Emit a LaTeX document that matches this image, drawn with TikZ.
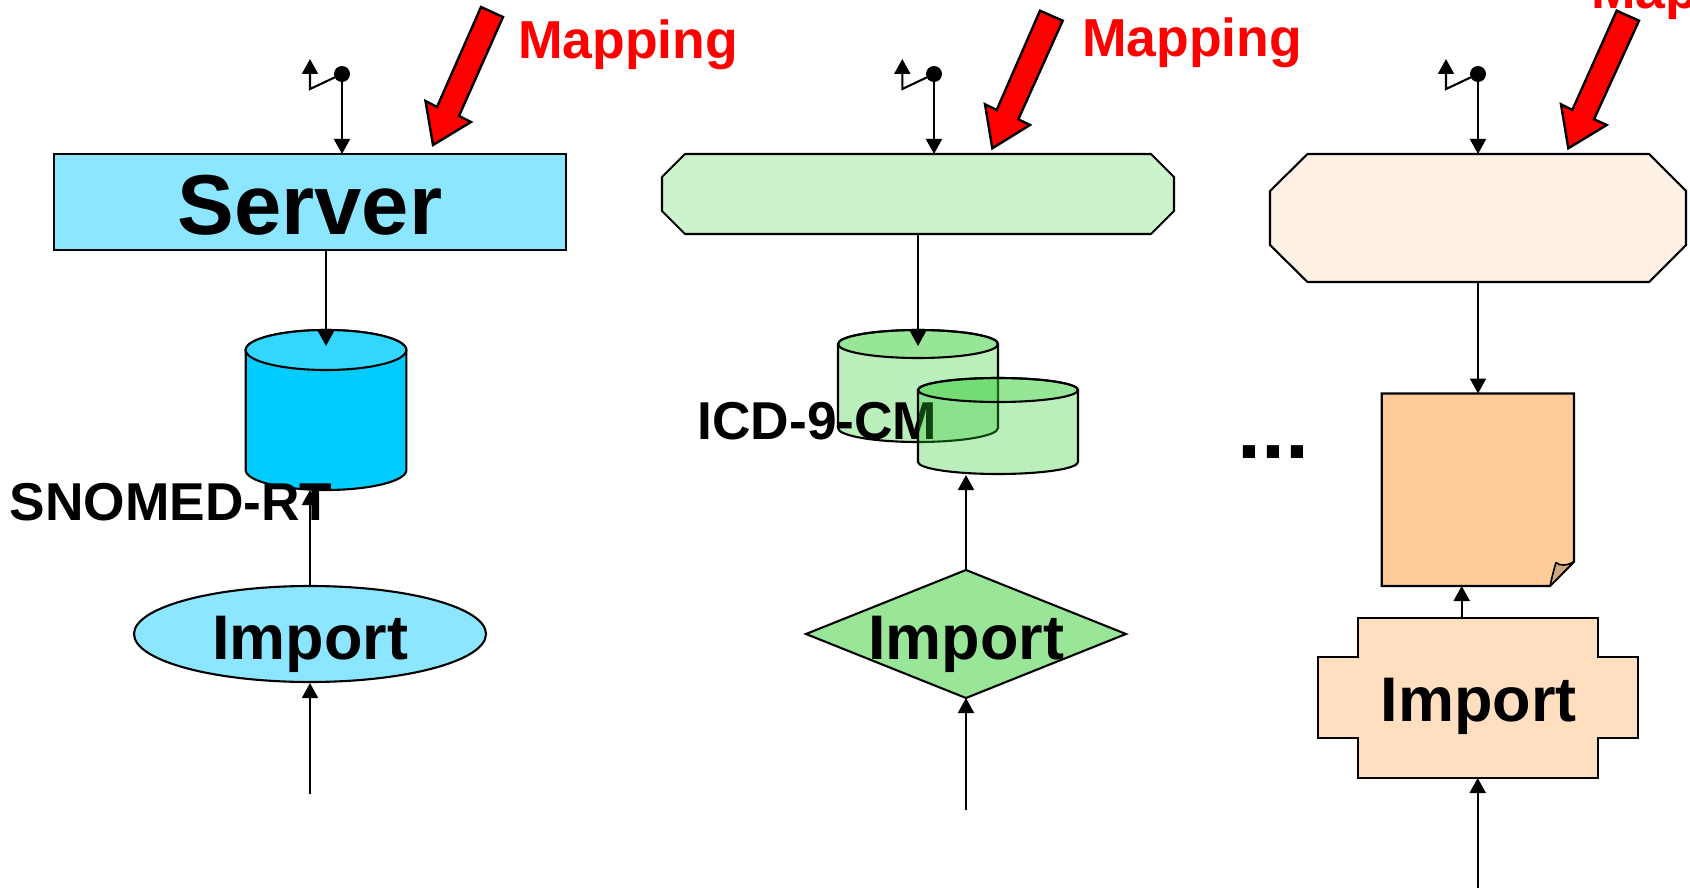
\documentclass[tikz,border=0pt]{standalone}
\usepackage{fontspec}
\setmainfont{Liberation Sans}
\usetikzlibrary{arrows.meta,shapes.geometric}
\definecolor{skyfill}{HTML}{8CE6FF}
\definecolor{cyanside}{HTML}{00CCFF}
\definecolor{cyantop}{HTML}{33D6FF}
\definecolor{palegreen}{HTML}{CCF2CC}
\definecolor{midgreen}{HTML}{99E699}
\definecolor{glassgreen}{rgb}{.19,.8,.19}
\definecolor{palecream}{HTML}{FEF0E3}
\definecolor{docorange}{HTML}{FFCC99}
\definecolor{foldtan}{HTML}{CFA87F}
\definecolor{crosspeach}{HTML}{FFDFBF}
\tikzset{
  link/.style={draw=black,-{Triangle[length=15pt,width=16pt]}},
  shapeline/.style={draw=black,line join=miter},
  redarrow/.style={draw=black,fill=red,line width=2.4pt,line join=miter},
  dotnode/.style={circle,fill=black,inner sep=0pt,minimum size=16pt},
  labeltext/.style={inner sep=0pt,anchor=base,font=\fontsize{53.3}{60}\selectfont\bfseries},
  maptext/.style={labeltext,text=red,font=\fontsize{53.5}{60}\selectfont\bfseries},
  importtext/.style={labeltext,font=\fontsize{63}{70}\selectfont\bfseries},
}
\begin{document}
\begin{tikzpicture}[x=1pt,y=-1pt,line width=2.1pt]
\useasboundingbox (0,0) rectangle (1690,888);
\clip (0,0) rectangle (1690,888);
\fill[white] (0,0) rectangle (1690,888);

% ---------- column 1
\node[draw=black,fill=skyfill,minimum width=512pt,minimum height=96pt,inner sep=0pt] (server) at (310,202) {};
\node[labeltext,font=\fontsize{85}{90}\selectfont\bfseries] (servertext) at (310,234) {Server};
\path[shapeline,fill=cyanside] (245.7,350) -- (245.7,470) arc[start angle=180,end angle=360,x radius=80.35pt,y radius=20pt] -- (406.4,350) arc[start angle=0,end angle=180,x radius=80.35pt,y radius=20pt] -- cycle;
\draw[fill=cyantop] (326,350) ellipse[x radius=80.35pt,y radius=20pt];
\coordinate (cyltop) at (326,346);
\coordinate (cylbot) at (310,490);
\coordinate (servbot) at (326,250);
\draw[link] (servbot) -- (cyltop);
\node[draw=black,fill=skyfill,ellipse,minimum width=352pt,minimum height=96pt,inner sep=0pt] (imp1) at (310,634) {};
\node[importtext] (imp1text) at (310,659) {Import};
\coordinate (in1) at (310,794);
\draw[link] (in1) -- (imp1.south);
\draw[link] (imp1.north) -- (cylbot);
\node[labeltext] (snomed) at (171,520) {SNOMED-RT};
\coordinate (d1bot) at (342,154);
\coordinate (d1bend) at (310,89);
\coordinate (d1up) at (310,59);
\node[dotnode] (dot1) at (342,74) {};
\draw[link] (dot1.center) -- (d1bot);
\draw[link] (dot1.center) -- (d1bend) -- (d1up);
\path[redarrow] (481,7) -- (503,17) -- (459,116) -- (471,122) -- (433,145) -- (425.5,101) -- (437,107) -- cycle;
\node[maptext] (map1) at (628,59) {Mapping};

% ---------- column 2
\path[shapeline,fill=palegreen] (685,154) -- (1151,154) -- (1174,177) -- (1174,211) -- (1151,234) -- (685,234) -- (662,211) -- (662,177) -- cycle;
\path[shapeline,fill=glassgreen,fill opacity=.33] (838,344) -- (838,428) arc[start angle=180,end angle=360,x radius=80pt,y radius=14pt] -- (998,344) arc[start angle=0,end angle=180,x radius=80pt,y radius=14pt] -- cycle;
\draw[fill=glassgreen,fill opacity=.25] (918,344) ellipse[x radius=80pt,y radius=14pt];
\coordinate (gbot) at (918,234);
\coordinate (gcyl) at (918,346);
\draw[link] (gbot) -- (gcyl);
\node[labeltext] (icd) at (817.5,439.5) {ICD-9-CM};
\path[shapeline,fill=glassgreen,fill opacity=.33] (918,390) -- (918,462) arc[start angle=180,end angle=360,x radius=80pt,y radius=12pt] -- (1078,390) arc[start angle=0,end angle=180,x radius=80pt,y radius=12pt] -- cycle;
\draw[fill=glassgreen,fill opacity=.25] (998,390) ellipse[x radius=80pt,y radius=12pt];
\path[shapeline,fill=midgreen] (966,570) -- (1126,634) -- (966,698) -- (806,634) -- cycle;
\node[importtext] (imp2text) at (966,659) {Import};
\coordinate (dtop) at (966,570);
\coordinate (dbot) at (966,698);
\coordinate (cylBbot) at (966,475);
\coordinate (in2) at (966,810);
\draw[link] (dtop) -- (cylBbot);
\draw[link] (in2) -- (dbot);
\coordinate (d2bot) at (934,154);
\coordinate (d2bend) at (902.3,89);
\coordinate (d2up) at (902.3,59);
\node[dotnode] (dot2) at (934,74) {};
\draw[link] (dot2.center) -- (d2bot);
\draw[link] (dot2.center) -- (d2bend) -- (d2up);
\path[redarrow] (1040,10.7) -- (1062.7,20.7) -- (1018.3,119.3) -- (1030,125) -- (992.3,148.3) -- (985,104.3) -- (996.7,110) -- cycle;
\node[maptext] (map2) at (1192,57) {Mapping};

% ---------- dots
\node[labeltext,font=\fontsize{86.3}{90}\selectfont\bfseries] (ellipsis) at (1273.5,458) {...};

% ---------- column 3
\path[shapeline,fill=palecream] (1307.5,154) -- (1649,154) -- (1686,191) -- (1686,245) -- (1649,282) -- (1307.5,282) -- (1270,245) -- (1270,191) -- cycle;
\path[shapeline,fill=docorange] (1381.7,393.5) -- (1574,393.5) -- (1574,561.7) -- (1550,586) -- (1381.7,586) -- cycle;
\path[draw=black,line width=1.6pt,line join=round,fill=foldtan] (1550,586) .. controls (1552,577) and (1554,569) .. (1556,562.5) .. controls (1559,566) and (1567,566) .. (1574,561.7) -- cycle;
\coordinate (cbot) at (1478,282);
\coordinate (doctop) at (1478,393.5);
\draw[link] (cbot) -- (doctop);
\coordinate (docbot) at (1461.7,586);
\coordinate (crosstop) at (1461.7,617.7);
\coordinate (crossbot) at (1477.7,778);
\coordinate (in3) at (1477.7,888);
\path[shapeline,fill=crosspeach] (1357.7,617.7) -- (1598.3,617.7) -- (1598.3,657.3) -- (1638.3,657.3) -- (1638.3,738.3) -- (1598.3,738.3) -- (1598.3,777.7) -- (1357.7,777.7) -- (1357.7,738.3) -- (1318,738.3) -- (1318,657.3) -- (1357.7,657.3) -- cycle;
\node[importtext] (imp3text) at (1478.5,721.7) {Import};
\draw[link] (crosstop) -- (docbot);
\draw[link] (in3) -- (crossbot);
\coordinate (d3bot) at (1478,154);
\coordinate (d3bend) at (1446,89);
\coordinate (d3up) at (1446,59);
\node[dotnode] (dot3) at (1478,74) {};
\draw[link] (dot3.center) -- (d3bot);
\draw[link] (dot3.center) -- (d3bend) -- (d3up);
\path[redarrow] (1616.7,10.7) -- (1639,20.7) -- (1594,119.3) -- (1606.7,125) -- (1568.3,148.3) -- (1561,104.3) -- (1572.3,110) -- cycle;
\node[maptext,anchor=base west] (map3) at (1590,9) {Mapping};
\end{tikzpicture}
\end{document}
